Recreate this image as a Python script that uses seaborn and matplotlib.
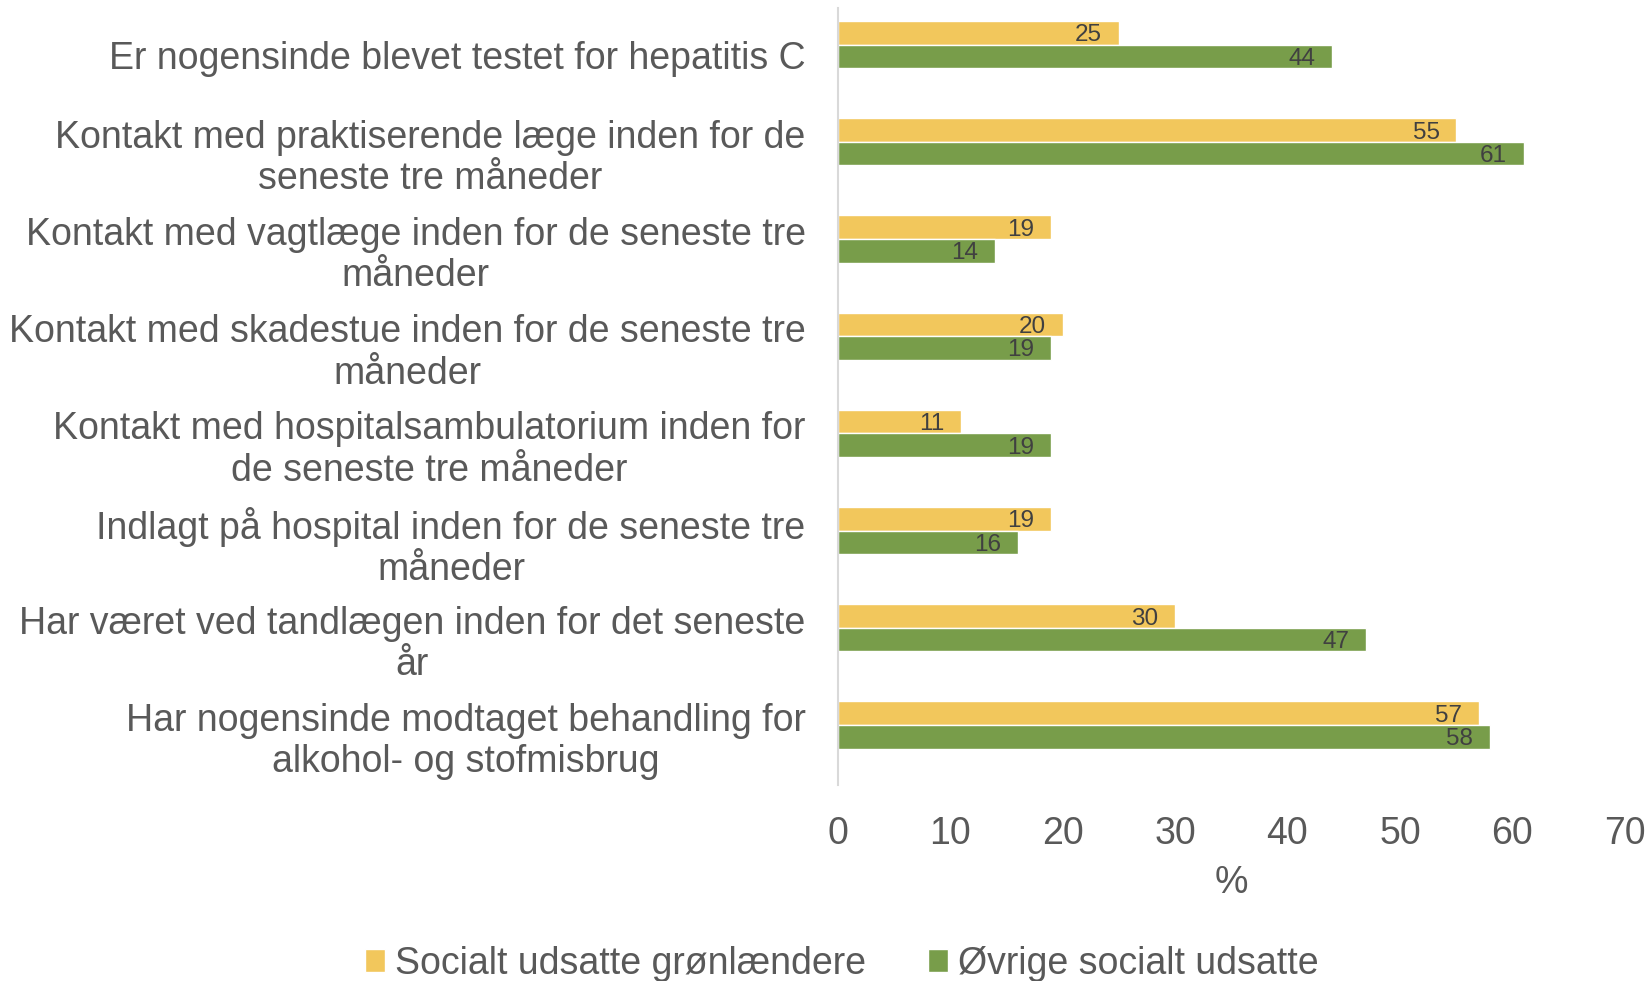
import matplotlib
matplotlib.use("Agg")
import matplotlib.pyplot as plt
import matplotlib.transforms as mtransforms
import seaborn as sns
import pandas as pd

categories = [
    "Er nogensinde blevet testet for hepatitis C",
    "Kontakt med praktiserende læge inden for de\nseneste tre måneder",
    "Kontakt med vagtlæge inden for de seneste tre\nmåneder",
    "Kontakt med skadestue inden for de seneste tre\nmåneder",
    "Kontakt med hospitalsambulatorium inden for\nde seneste tre måneder",
    "Indlagt på hospital inden for de seneste tre\nmåneder",
    "Har været ved tandlægen inden for det seneste\når",
    "Har nogensinde modtaget behandling for\nalkohol- og stofmisbrug",
]
series_names = ["Socialt udsatte grønlændere", "Øvrige socialt udsatte"]
groenlaendere = [25, 55, 19, 20, 11, 19, 30, 57]
oevrige = [44, 61, 14, 19, 19, 16, 47, 58]
xticks = [0, 10, 20, 30, 40, 50, 60, 70]

colors = ["#F2C75C", "#789D4A"]
text_color = "#595959"

df = pd.DataFrame({
    "kategori": categories * 2,
    "gruppe": [series_names[0]] * len(categories) + [series_names[1]] * len(categories),
    "værdi": groenlaendere + oevrige,
})

sns.set_theme(style="white")
plt.rcParams["font.family"] = ["Liberation Sans", "DejaVu Sans"]

fig = plt.figure(figsize=(16.5, 9.81), dpi=100)
ax = fig.add_axes([0.5076, 0.1998, 0.4772, 0.7920])

sns.barplot(data=df, y="kategori", x="værdi", hue="gruppe", order=categories,
            hue_order=series_names, palette=colors, orient="h", width=0.485,
            gap=0, saturation=1, ax=ax, legend=True)

ax.set_xlim(0, 70)
ax.set_ylim(7.617, -0.376)
ax.set_xticks(xticks)
ax.set_xticklabels([str(t) for t in xticks])
ax.tick_params(axis="x", length=0, labelsize=27, labelcolor=text_color, pad=22.5)
ax.tick_params(axis="y", length=0, labelsize=27, labelcolor=text_color, pad=23)
shift = mtransforms.ScaledTranslation(0, -10 / 100, fig.dpi_scale_trans)
for lbl in ax.get_yticklabels():
    lbl.set_multialignment("center")
    lbl.set_linespacing(1.19)
    lbl.set_transform(lbl.get_transform() + shift)
ax.set_ylabel("")
ax.set_xlabel("%", fontsize=27, color=text_color, labelpad=9)

for side in ["top", "right", "bottom"]:
    ax.spines[side].set_visible(False)
ax.spines["left"].set_color("#D9D9D9")
ax.spines["left"].set_linewidth(1.5)

for patch in ax.patches:
    w = patch.get_width()
    if w <= 0:
        continue
    yc = patch.get_y() + patch.get_height() / 2
    ax.annotate(f"{w:g}", (w, yc), xytext=(-12, -1.8), textcoords="offset points",
                ha="right", va="center", fontsize=17.5, color="#404040")

handles, labels = ax.get_legend_handles_labels()
ax.get_legend().remove()
fig.legend(handles, labels, loc="center", bbox_to_anchor=(0.510, 1 - 964 / 981),
           ncol=2, frameon=False, fontsize=27, labelcolor=text_color,
           handlelength=0.55, handleheight=0.55, handletextpad=0.25,
           columnspacing=1.65, borderaxespad=0, borderpad=0)

fig.savefig("out.png", dpi=100)
